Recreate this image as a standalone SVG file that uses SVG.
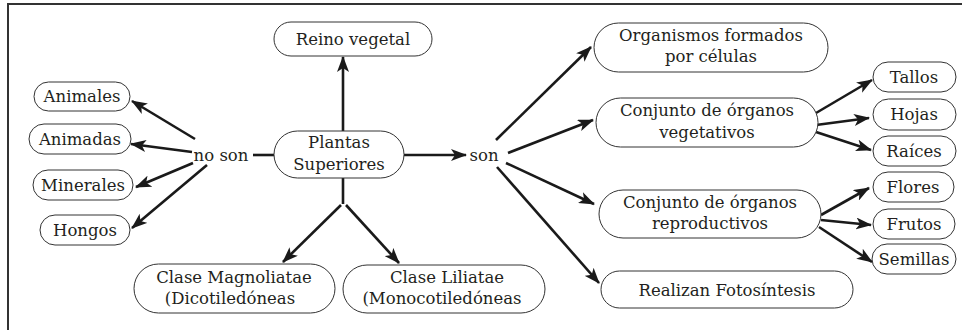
<svg xmlns="http://www.w3.org/2000/svg" width="962" height="330" viewBox="0 0 962 330">
<defs>
<marker id="ah" viewBox="0 0 16 12" refX="15" refY="6" markerWidth="16" markerHeight="12" markerUnits="userSpaceOnUse" orient="auto">
<path d="M0,0 L16,6 L0,12 L4,6 Z" fill="#1a1a1a"/>
</marker>
</defs>
<style>
.n{fill:#fff;stroke:#333;stroke-width:1}
.t{font-family:"DejaVu Serif","Liberation Serif",serif;font-size:16.5px;fill:#231f20;text-anchor:middle}
.c{stroke:#1a1a1a;stroke-width:2.6;fill:none}
.a{marker-end:url(#ah)}
</style>
<rect width="962" height="330" fill="#fff"/>
<g id="frame"><path d="M8,330 L8,4 L962,4" fill="none" stroke="#333" stroke-width="2"/></g>

<g id="connectors">
<line class="c a" x1="343" y1="131" x2="343" y2="57"/>
<line class="c" x1="253" y1="155" x2="274" y2="155"/>
<line class="c a" x1="404" y1="155" x2="466" y2="155"/>
<line class="c" x1="343" y1="178" x2="343" y2="204"/>
<line class="c a" x1="341" y1="205" x2="283" y2="262"/>
<line class="c a" x1="346" y1="205" x2="399" y2="263"/>
<line class="c a" x1="195" y1="139" x2="132" y2="101"/>
<line class="c a" x1="192" y1="152" x2="131" y2="144"/>
<line class="c a" x1="193" y1="163" x2="136" y2="187"/>
<line class="c a" x1="207" y1="165" x2="132" y2="228"/>
<line class="c a" x1="496" y1="140" x2="591" y2="47"/>
<line class="c a" x1="508" y1="153" x2="593" y2="120"/>
<line class="c a" x1="506" y1="163" x2="594" y2="204"/>
<line class="c a" x1="497" y1="167" x2="599" y2="283"/>
<line class="c a" x1="816" y1="113" x2="872" y2="80"/>
<line class="c a" x1="816" y1="125" x2="869" y2="118"/>
<line class="c a" x1="816" y1="132" x2="871" y2="150"/>
<line class="c a" x1="821" y1="215" x2="869" y2="188"/>
<line class="c a" x1="821" y1="220" x2="871" y2="225"/>
<line class="c a" x1="819" y1="227" x2="872" y2="262"/>
</g>

<g id="reino"><rect class="n" x="274" y="22" width="158" height="34" rx="17"/><text class="t" x="353" y="45">Reino vegetal</text></g>
<g id="plantas"><rect class="n" x="274" y="131" width="130" height="47" rx="23.5"/><text class="t" x="339" y="148">Plantas</text><text class="t" x="339" y="170">Superiores</text></g>
<g id="noson"><text class="t" x="221" y="161">no son</text></g>
<g id="son"><text class="t" x="484" y="161">son</text></g>
<g id="animales"><rect class="n" x="34" y="82" width="96" height="29" rx="14.5"/><text class="t" x="82" y="102">Animales</text></g>
<g id="animadas"><rect class="n" x="29" y="124" width="102" height="30" rx="15"/><text class="t" x="80" y="145">Animadas</text></g>
<g id="minerales"><rect class="n" x="33" y="170" width="100" height="30" rx="15"/><text class="t" x="83" y="191">Minerales</text></g>
<g id="hongos"><rect class="n" x="40" y="215" width="90" height="30" rx="15"/><text class="t" x="85" y="236">Hongos</text></g>
<g id="magnoliatae"><rect class="n" x="134" y="264" width="201" height="49" rx="24.5"/><text class="t" x="234" y="283">Clase Magnoliatae</text><text class="t" x="230" y="304">(Dicotiledóneas</text></g>
<g id="liliatae"><rect class="n" x="343" y="265" width="202" height="48" rx="24"/><text class="t" x="447" y="283">Clase Liliatae</text><text class="t" x="442" y="304">(Monocotiledóneas</text></g>
<g id="organismos"><rect class="n" x="594" y="23" width="234" height="49" rx="24.5"/><text class="t" x="711" y="41">Organismos formados</text><text class="t" x="711" y="62">por células</text></g>
<g id="vegetativos"><rect class="n" x="596" y="98" width="222" height="49" rx="24.5"/><text class="t" x="707" y="116">Conjunto de órganos</text><text class="t" x="707" y="138">vegetativos</text></g>
<g id="reproductivos"><rect class="n" x="599" y="190" width="222" height="48" rx="24"/><text class="t" x="710" y="208">Conjunto de órganos</text><text class="t" x="710" y="229">reproductivos</text></g>
<g id="fotosintesis"><rect class="n" x="601" y="271" width="252" height="37" rx="18.5"/><text class="t" x="727" y="296">Realizan Fotosíntesis</text></g>
<g id="tallos"><rect class="n" x="873" y="62" width="83" height="30" rx="15"/><text class="t" x="914" y="83">Tallos</text></g>
<g id="hojas"><rect class="n" x="873" y="99" width="83" height="31" rx="15.5"/><text class="t" x="914" y="120">Hojas</text></g>
<g id="raices"><rect class="n" x="873" y="136" width="83" height="30" rx="15"/><text class="t" x="914" y="157">Raíces</text></g>
<g id="flores"><rect class="n" x="873" y="172" width="81" height="30" rx="15"/><text class="t" x="913" y="193">Flores</text></g>
<g id="frutos"><rect class="n" x="873" y="209" width="82" height="30" rx="15"/><text class="t" x="914" y="230">Frutos</text></g>
<g id="semillas"><rect class="n" x="872" y="244" width="84" height="30" rx="15"/><text class="t" x="914" y="265">Semillas</text></g>
</svg>
